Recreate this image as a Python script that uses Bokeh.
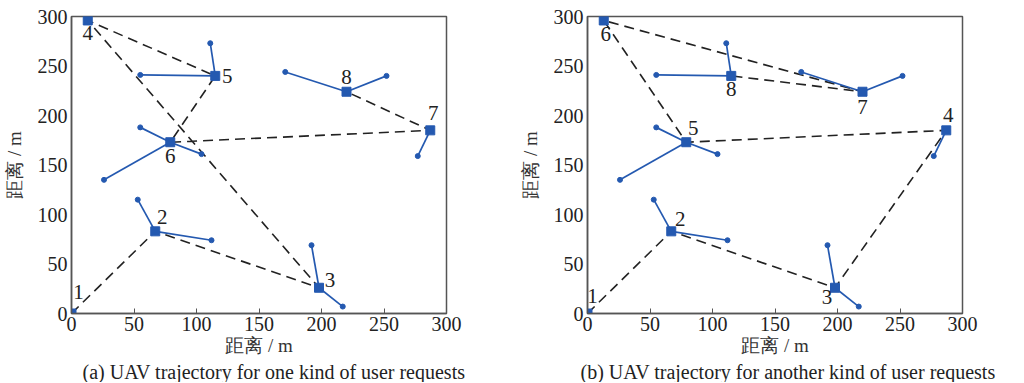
from bokeh.plotting import figure
from bokeh.layouts import row
from bokeh.models import Title, FixedTicker, ColumnDataSource
from bokeh.core.properties import value
from bokeh.embed import file_html
from bokeh.resources import INLINE

# hover (stop) positions of the UAV, indexed in the order of panel (a)
hover_x = [0, 67, 198, 13, 115, 79, 287, 220]
hover_y = [0, 83, 26, 296, 240, 173, 185, 224]
# users and the hover point that serves each of them
user_owner = [1, 1, 2, 2, 4, 4, 5, 5, 5, 6, 7, 7]
user_x = [53, 112, 192, 217, 111, 55, 55, 104, 26, 277, 171, 252]
user_y = [115, 74, 69, 7, 273, 241, 188, 161, 135, 159, 244, 240]
# visiting order for both kinds of requests
route_a = [0, 1, 2, 3, 4, 5, 6, 7]
route_b = [0, 1, 2, 6, 5, 3, 7, 4]
ticks = [0, 50, 100, 150, 200, 250, 300]
captions = ["(a) UAV trajectory for one kind of user requests",
            "(b) UAV trajectory for another kind of user requests"]
axis_label = "距离 / m"

# label placement (pixels) of the stop numbers
label_dx_a = [7, 7, 11, 0, 12, 0, 3, 0]
label_dy_a = [-22, -14, -8, 13, 0, 14, -17, -15]
label_dx_b = [5, 9, -8, 2, 7, 2, 0, 0]
label_dy_b = [-18, -12, 9, -15, -14, 14, 15, 13]

BLUE = "#2459b0"
SERIF = "Liberation Serif"


def make_panel(route, dx, dy, caption, left_border, right_border, cap_offset):
    p = figure(frame_width=375, frame_height=297, x_range=(0, 300), y_range=(0, 300),
               output_backend="svg", toolbar_location=None,
               min_border_left=left_border, min_border_right=right_border,
               min_border_top=16, min_border_bottom=0)
    p.grid.visible = False
    p.outline_line_color = "#555555"
    p.outline_line_width = 1.5
    for ax in (p.xaxis[0], p.yaxis[0]):
        ax.ticker = FixedTicker(ticks=ticks)
        ax.minor_tick_line_color = None
        ax.axis_line_color = "#555555"
        ax.axis_line_width = 1.5
        ax.major_tick_line_color = "#555555"
        ax.major_tick_out = 0
        ax.major_label_text_font = SERIF
        ax.major_label_text_font_size = "20px"
        ax.major_label_text_color = "#222222"
        ax.axis_label = axis_label
        ax.axis_label_text_font = SERIF
        ax.axis_label_text_font_size = "19px"
        ax.axis_label_text_font_style = "normal"
        ax.axis_label_text_color = "#333333"
    p.xaxis.major_tick_in = 5
    p.yaxis.major_tick_in = 0
    p.xaxis.major_label_standoff = 3
    p.xaxis.axis_label_standoff = 1
    p.yaxis.major_label_standoff = 4
    p.yaxis.axis_label_standoff = 10

    # UAV path
    rx = [hover_x[i] for i in route]
    ry = [hover_y[i] for i in route]
    p.line(rx, ry, line_color="#222222", line_width=1.6, line_dash="10 6")

    # user links
    p.segment(x0=[hover_x[o] for o in user_owner], y0=[hover_y[o] for o in user_owner],
              x1=user_x, y1=user_y, line_color=BLUE, line_width=1.7)
    p.scatter(user_x, user_y, marker="circle", size=5, color=BLUE)
    p.scatter(hover_x, hover_y, marker="square", size=9, color=BLUE)

    src = ColumnDataSource(dict(x=rx, y=ry, t=[str(k + 1) for k in range(len(route))],
                                dx=dx, dy=dy))
    p.text(x="x", y="y", text="t", x_offset="dx", y_offset="dy", source=src,
           text_font=value(SERIF), text_font_size="21px", text_color="#222222",
           text_align="center", text_baseline="middle")

    p.add_layout(Title(text=caption, align="left", offset=cap_offset,
                       text_font=SERIF, text_font_size="20px",
                       text_font_style="normal", text_color="#222222",
                       standoff=0), "below")
    return p


pa = make_panel(route_a, label_dx_a, label_dy_a, captions[0], 69, 70, 11)
pb = make_panel(route_b, label_dx_b, label_dy_b, captions[1], 69, 60, -7)

layout = row(pa, pb)
open("out.html", "w").write(file_html(layout, INLINE))
